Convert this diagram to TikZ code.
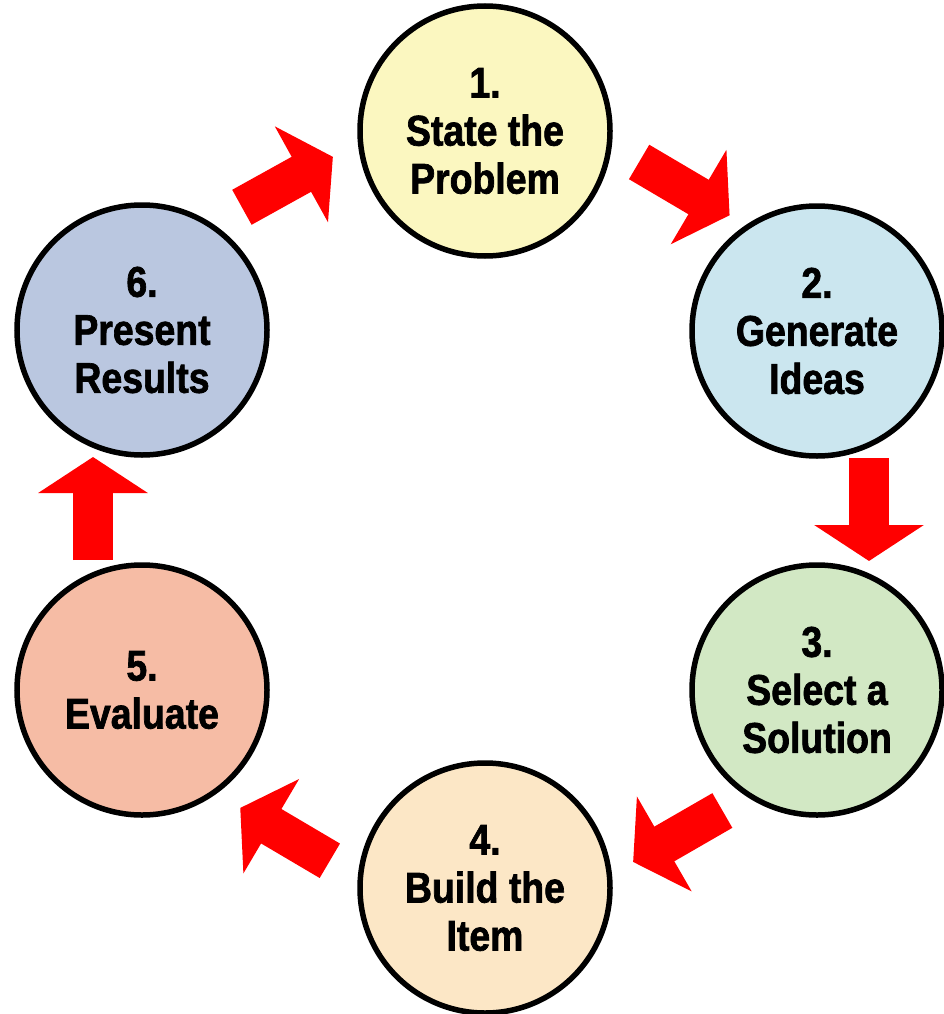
\documentclass[tikz,border=0pt]{standalone}
\usepackage{fontspec}
\newfontfamily\stepfont[FakeStretch=0.87,FakeBold=1.6]{Liberation Sans}
\usetikzlibrary{arrows.meta,calc}
\definecolor{cone}{HTML}{FBF7C0}
\definecolor{ctwo}{HTML}{CBE6EF}
\definecolor{cthree}{HTML}{D2E8C4}
\definecolor{cfour}{HTML}{FCE7C6}
\definecolor{cfive}{HTML}{F6BCA5}
\definecolor{csix}{HTML}{BAC7E0}
\definecolor{arrowred}{HTML}{FF0000}
\begin{document}
\begin{tikzpicture}[x=1pt,y=1pt,
  stepnode/.style={circle, draw=black, line width=5.5pt, minimum size=250pt,
    inner sep=0pt, align=center, text=black,
    font=\stepfont\bfseries\fontsize{43}{48}\selectfont},
  ringarrow/.style={draw=arrowred, line width=40pt,
    -{Triangle[width=108pt,length=36pt]}}]
\useasboundingbox (0,0) rectangle (943,-1014);
\node[stepnode, fill=cone]   (n1) at (485,-131) {1.\\State the\\Problem};
\node[stepnode, fill=ctwo]   (n2) at (817,-331) {2.\\Generate\\Ideas};
\node[stepnode, fill=cthree] (n3) at (817,-690) {3.\\Select a\\Solution};
\node[stepnode, fill=cfour]  (n4) at (485,-888) {4.\\Build the\\Item};
\node[stepnode, fill=cfive]  (n5) at (142,-690) {5.\\Evaluate};
\node[stepnode, fill=csix]   (n6) at (142,-330) {6.\\Present\\Results};
\coordinate (t12) at ($(n1)!148pt!(n2)!53pt!90:(n2)$);
\coordinate (h12) at ($(n1)!253pt!(n2)!54pt!90:(n2)$);
\coordinate (t23) at ($(n2)!127pt!(n3)!52pt!90:(n3)$);
\coordinate (h23) at ($(n2)!230pt!(n3)!52pt!90:(n3)$);
\coordinate (t34) at ($(n3)!143pt!(n4)!55pt!90:(n4)$);
\coordinate (h34) at ($(n3)!246pt!(n4)!53.5pt!90:(n4)$);
\coordinate (t45) at ($(n4)!148pt!(n5)!54pt!90:(n5)$);
\coordinate (h45) at ($(n4)!252pt!(n5)!53pt!90:(n5)$);
\coordinate (t56) at ($(n5)!130pt!(n6)!49pt!90:(n6)$);
\coordinate (h56) at ($(n5)!233pt!(n6)!49pt!90:(n6)$);
\coordinate (t61) at ($(n6)!148pt!(n1)!56pt!90:(n1)$);
\coordinate (h61) at ($(n6)!252pt!(n1)!54pt!90:(n1)$);
\draw[ringarrow] (t12) -- (h12);
\draw[ringarrow] (t23) -- (h23);
\draw[ringarrow] (t34) -- (h34);
\draw[ringarrow] (t45) -- (h45);
\draw[ringarrow] (t56) -- (h56);
\draw[ringarrow] (t61) -- (h61);
\end{tikzpicture}
\end{document}
